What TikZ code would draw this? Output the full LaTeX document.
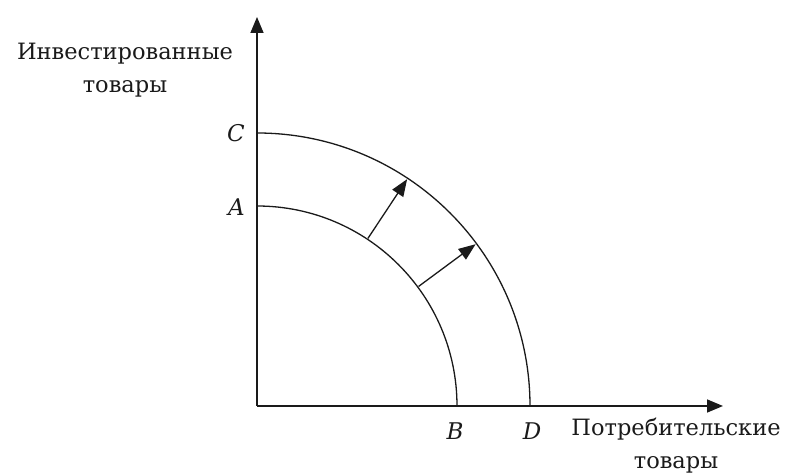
\documentclass[tikz,border=0pt]{standalone}
\usepackage{fontspec}
\setmainfont{DejaVu Serif}
\usepackage{xcolor}
\usepackage{tikz}
\usetikzlibrary{arrows.meta}
\definecolor{inkBlack}{HTML}{1A1A1A}
\tikzset{
  axisline/.style={-{Triangle[length=16pt,width=13pt]}, line width=1.6pt, draw=inkBlack},
  frontier/.style={line width=1.3pt, draw=inkBlack},
  shiftarrow/.style={-{Triangle[length=17pt,width=13pt]}, line width=1.3pt, draw=inkBlack},
  axislabel/.style={font=\fontsize{22.5}{33}\selectfont, text=inkBlack, align=center, inner sep=0pt},
  ptlabel/.style={font=\fontsize{23}{24}\selectfont\itshape, text=inkBlack, inner sep=0pt},
}

\begin{document}
\begin{tikzpicture}[x=1pt,y=1pt]
  \useasboundingbox (-257,-67) rectangle (530,406);

  % Axes
  \coordinate (O) at (0,0);
  \coordinate (ytop) at (0,389);
  \coordinate (xend) at (466,0);
  \draw[axisline] (O) -- (ytop);
  \draw[axisline] (O) -- (xend);

  % Frontier end points
  \coordinate (A) at (0,200);
  \coordinate (B) at (200,0);
  \coordinate (C) at (0,273);
  \coordinate (D) at (273,0);

  % Production possibility curves
  \draw[frontier] (A) arc[start angle=90, end angle=0, radius=200];
  \draw[frontier] (C) arc[start angle=90, end angle=0, radius=273];

  % Outward shift
  \coordinate (in1) at (56.5:201);
  \coordinate (out1) at (56.5:272);
  \coordinate (in2) at (36.5:201);
  \coordinate (out2) at (36.5:272);
  \draw[shiftarrow] (in1) -- (out1);
  \draw[shiftarrow] (in2) -- (out2);

  % Labels
  \node[ptlabel, anchor=east] (lC) at (-12,273) {C};
  \node[ptlabel, anchor=east] (lA) at (-12,199) {A};
  \node[ptlabel] (lB) at (198,-25) {B};
  \node[ptlabel] (lD) at (275,-25) {D};
  \node[axislabel] (ylab) at (-132,336) {Инвестированные\\товары};
  \node[axislabel] (xlab) at (419,-40) {Потребительские\\товары};
\end{tikzpicture}
\end{document}
